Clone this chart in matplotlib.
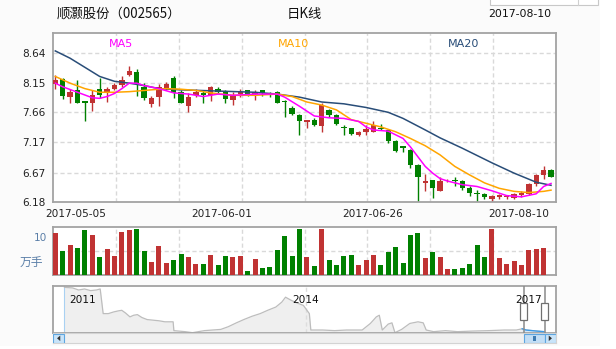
import matplotlib
matplotlib.use('Agg')
import matplotlib.pyplot as plt
from matplotlib.patches import Rectangle, Polygon
import matplotlib.transforms as mtransforms
import numpy as np

plt.rcParams['font.family'] = ['DejaVu Sans', 'Noto Sans CJK SC']

# ---------------- data ----------------
stock_name = '顺灏股份（002565）'
chart_kind = '日K线'
chart_date = '2017-08-10'
date_labels = ['2017-05-05', '2017-06-01', '2017-06-26', '2017-08-10']
price_ticks = [6.18, 6.67, 7.17, 7.66, 8.15, 8.64]
vol_ticks = [10]
vol_unit = '万手'
ma_names = ['MA5', 'MA10', 'MA20']

opens = [8.13, 8.21, 7.92, 8.03, 7.85, 7.82, 8.04, 8.00, 8.05, 8.11,
         8.28, 8.32, 8.08, 7.80, 7.92, 8.04, 8.22, 8.00, 7.77, 7.94,
         7.97, 7.94, 8.05, 7.99, 7.86, 7.96, 8.02, 7.96, 8.02, 7.98,
         8.00, 7.85, 7.73, 7.62, 7.50, 7.53, 7.44, 7.70, 7.62, 7.42,
         7.40, 7.28, 7.33, 7.34, 7.41, 7.37, 7.19, 7.11, 7.04, 6.79,
         6.50, 6.54, 6.37, 6.54, 6.55, 6.53, 6.42, 6.33, 6.32, 6.24,
         6.27, 6.26, 6.25, 6.30, 6.32, 6.48, 6.63, 6.71]
highs = [8.27, 8.22, 8.05, 8.19, 7.85, 8.03, 8.22, 8.08, 8.14, 8.26,
         8.42, 8.37, 8.15, 7.93, 8.12, 8.16, 8.25, 8.03, 7.97, 8.05,
         8.01, 8.09, 8.08, 8.03, 8.00, 8.04, 8.03, 8.03, 8.03, 8.00,
         8.01, 7.86, 7.76, 7.63, 7.54, 7.56, 7.82, 7.71, 7.63, 7.45,
         7.41, 7.36, 7.45, 7.52, 7.46, 7.38, 7.20, 7.11, 7.05, 6.81,
         6.65, 6.55, 6.60, 6.57, 6.60, 6.55, 6.44, 6.38, 6.34, 6.30,
         6.31, 6.30, 6.33, 6.37, 6.49, 6.65, 6.78, 6.72]
lows = [8.04, 7.88, 7.81, 7.82, 7.51, 7.68, 7.89, 7.83, 8.03, 8.08,
        8.25, 7.93, 7.87, 7.74, 7.77, 8.03, 7.89, 7.81, 7.67, 7.92,
        7.82, 7.85, 7.97, 7.81, 7.78, 7.92, 7.93, 7.87, 7.93, 7.91,
        7.81, 7.58, 7.61, 7.28, 7.40, 7.44, 7.34, 7.59, 7.45, 7.29,
        7.29, 7.27, 7.29, 7.33, 7.37, 7.15, 7.00, 7.01, 6.74, 6.18,
        6.36, 6.25, 6.36, 6.52, 6.45, 6.38, 6.28, 6.18, 6.24, 6.18,
        6.24, 6.23, 6.24, 6.27, 6.30, 6.44, 6.57, 6.59]
closes = [8.19, 7.93, 8.00, 7.82, 7.82, 7.94, 7.94, 8.05, 8.11, 8.20,
          8.34, 8.14, 7.89, 7.89, 8.08, 8.13, 7.98, 7.82, 7.92, 7.99,
          7.94, 8.08, 7.99, 7.88, 7.94, 8.00, 7.95, 8.00, 7.97, 7.95,
          7.82, 7.83, 7.64, 7.52, 7.53, 7.45, 7.78, 7.62, 7.47, 7.40,
          7.30, 7.34, 7.38, 7.45, 7.38, 7.19, 7.03, 7.08, 6.79, 6.60,
          6.53, 6.41, 6.53, 6.55, 6.53, 6.41, 6.33, 6.32, 6.26, 6.29,
          6.30, 6.28, 6.32, 6.34, 6.48, 6.63, 6.71, 6.60]
volumes = [11.14, 6.31, 7.89, 7.10, 11.84, 10.52, 4.82, 6.84, 5.00, 11.31,
           11.84, 12.10, 6.31, 3.42, 7.63, 3.24, 3.95, 5.53, 4.82, 2.98,
           2.89, 5.26, 2.63, 5.00, 4.74, 5.09, 1.05, 4.21, 1.84, 2.10,
           6.58, 10.35, 5.09, 12.10, 4.74, 2.37, 12.10, 3.95, 2.63, 5.00,
           5.26, 2.63, 3.95, 5.35, 2.63, 6.05, 7.37, 3.16, 10.52, 11.05,
           4.47, 6.05, 4.74, 1.58, 1.58, 1.84, 2.89, 7.89, 4.74, 12.10,
           4.47, 2.89, 3.68, 2.63, 6.58, 6.84, 7.10, 0.09]

ma5_idx = [0, 1, 3, 5, 6, 7, 8, 9, 10, 11, 12, 14, 16, 18, 20, 22, 24, 27, 30, 31,
           33, 35, 37, 39, 41, 42, 43, 45, 47, 48, 49, 50, 51, 52, 53, 55, 57, 59, 61, 63,
           65, 66, 67]
ma5_val = [8.14, 8.08, 7.99, 7.90, 7.89, 7.92, 7.97, 8.05, 8.14, 8.14, 8.10, 8.05, 7.98, 7.96, 7.92, 7.96, 7.94, 7.96, 7.96, 7.91,
           7.76, 7.60, 7.57, 7.56, 7.51, 7.42, 7.37, 7.35, 7.23, 7.09, 6.93, 6.77, 6.66, 6.57, 6.53, 6.47, 6.44, 6.37, 6.29, 6.27,
           6.32, 6.44, 6.49]
ma10_idx = [0, 2, 4, 6, 8, 10, 12, 15, 17, 19, 21, 24, 27, 30, 32, 34, 36, 38, 40, 42,
            44, 46, 48, 50, 52, 54, 56, 58, 60, 62, 64, 66, 67]
ma10_val = [8.25, 8.14, 8.05, 7.99, 7.99, 8.00, 8.02, 8.05, 8.04, 8.02, 7.98, 7.94, 7.94, 7.96, 7.92, 7.83, 7.78, 7.70, 7.54, 7.48,
            7.42, 7.34, 7.23, 7.11, 6.96, 6.77, 6.63, 6.50, 6.41, 6.36, 6.34, 6.36, 6.38]
ma20_idx = [0, 2, 4, 6, 8, 10, 12, 14, 17, 22, 27, 30, 33, 36, 39, 42, 45, 47, 50, 52,
            55, 59, 62, 65, 67]
ma20_val = [8.67, 8.55, 8.40, 8.25, 8.17, 8.14, 8.10, 8.05, 8.03, 8.01, 7.99, 7.96, 7.91, 7.83, 7.80, 7.74, 7.66, 7.56, 7.37, 7.24,
            7.07, 6.83, 6.66, 6.51, 6.46]

# navigator (long history, ordinal year position / price)
nav_year = [2010.76, 2010.87, 2010.95, 2011.03, 2011.11, 2011.19, 2011.24, 2011.28, 2011.35, 2011.42,
            2011.48, 2011.53, 2011.58, 2011.64, 2011.69, 2011.74, 2011.80, 2011.87, 2011.95, 2012.03,
            2012.11, 2012.22, 2012.23, 2012.38, 2012.48, 2012.64, 2012.86, 2012.96, 2013.07, 2013.17,
            2013.28, 2013.39, 2013.49, 2013.60, 2013.68, 2013.73, 2013.81, 2013.89, 2013.97, 2014.05,
            2014.07, 2014.23, 2014.39, 2014.55, 2014.76, 2014.87, 2014.95, 2014.99, 2015.03, 2015.11,
            2015.16, 2015.20, 2015.29, 2015.40, 2015.51, 2015.58, 2015.62, 2015.72, 2015.88, 2016.04,
            2016.25, 2016.46, 2016.67, 2016.83, 2016.91, 2016.96, 2017.10, 2017.20]
nav_value = [28.4, 28.1, 27.1, 27.6, 26.8, 27.1, 27.6, 15.6, 15.6, 16.4,
             16.9, 17.2, 15.9, 14.0, 14.8, 15.1, 13.7, 12.7, 12.4, 12.1,
             11.6, 11.6, 7.3, 6.8, 6.3, 7.3, 7.9, 9.2, 11.1, 12.7,
             14.3, 15.6, 17.2, 18.8, 21.2, 23.6, 22.0, 20.7, 19.6, 15.6,
             7.6, 7.6, 7.3, 7.6, 7.6, 10.8, 14.0, 14.8, 7.6, 10.5,
             11.1, 6.3, 7.9, 10.8, 11.6, 11.1, 7.6, 6.8, 7.3, 6.8,
             7.1, 7.3, 7.6, 7.6, 8.2, 7.6, 7.1, 6.8]
nav_year_ticks = [2011, 2014, 2017]
sel_start = 2016.93
sel_end = 2017.21

# ---------------- style / layout ----------------
RED = '#c03333'
GREEN = '#008000'
C_MA5 = '#ff00ff'
C_MA10 = '#ffa500'
C_MA20 = '#294d78'
GRID = '#d9d9d9'
SPINE = '#a3a3a3'
W, H = 616, 349
L_PX, R_PX = 53.3, 555.7

def fx(px):
    return px / W

def fy(py):
    return 1 - py / H

fig = plt.figure(figsize=(W / 100, H / 100), dpi=100)
fig.patch.set_facecolor('white')
fig.patches.append(Rectangle((0, fy(346)), fx(600), 346 / H, transform=fig.transFigure,
                             facecolor='#fbfbfb', edgecolor='none', zorder=-10))
# tooltip fragment at top right
fig.patches.append(Rectangle((fx(490), fy(4.5)), fx(108), 6 / H, transform=fig.transFigure,
                             facecolor='white', edgecolor='#c8c8c8', lw=0.8, zorder=5))
fig.lines.append(plt.Line2D([fx(578), fx(578)], [fy(4.5), 1], transform=fig.transFigure,
                            color='#d0d0d0', lw=0.8, zorder=6))

n = len(opens)
idx = np.arange(n)
o = np.array(opens); c = np.array(closes); h = np.array(highs); l = np.array(lows)
up = c >= o
cols = np.where(up, RED, GREEN)

xlim = (-0.27, 67.63)

def vgrid(a):
    for k in range(1, 8):
        a.axvline(xlim[0] + k * (xlim[1] - xlim[0]) / 8, color=GRID, lw=1,
                  linestyle=(0, (3, 2)), zorder=0)

def style_spines(a):
    for s in a.spines.values():
        s.set_color(SPINE)
        s.set_linewidth(1.3)

# ---- main price axes ----
ax = fig.add_axes([fx(L_PX), fy(202.3), fx(R_PX - L_PX), (202.3 - 33.3) / H])
ax.set_facecolor('white')
ax.set_xlim(*xlim)
ax.set_ylim(6.18, 8.96)
ax.set_yticks(price_ticks)
ax.set_yticklabels([f'{v:.2f}' for v in price_ticks])
ax.tick_params(axis='y', length=0, pad=5.5, labelsize=7.6, labelcolor='#222222')
ax.set_xticks([2.8, 22.5, 42.9, 62.7])
ax.set_xticklabels(date_labels)
ax.tick_params(axis='x', length=0, pad=5, labelsize=7.6, labelcolor='#222222')
ax.grid(axis='y', color=GRID, lw=1, linestyle=(0, (3, 2)), zorder=0)
ax.set_axisbelow(True)
vgrid(ax)
style_spines(ax)

ax.vlines(idx, l, h, colors=cols, lw=1.0, zorder=2)
ax.bar(idx, np.maximum(np.abs(c - o), 0.012), bottom=np.minimum(o, c), width=0.72,
       color=cols, linewidth=0, zorder=3)

ax.plot(ma20_idx, ma20_val, color=C_MA20, lw=1.1, zorder=4)
ax.plot(ma10_idx, ma10_val, color=C_MA10, lw=1.1, zorder=4)
ax.plot(ma5_idx, ma5_val, color=C_MA5, lw=1.1, zorder=4)

for name, col, xf in zip(ma_names, [C_MA5, C_MA10, C_MA20], [0.134, 0.478, 0.816]):
    ax.text(xf, 0.937, name, transform=ax.transAxes, color=col, fontsize=8,
            ha='center', va='center')

# titles
fig.text(fx(57), fy(14), stock_name, fontsize=9.6, ha='left', va='center', color='#111111',
         family=['Noto Sans CJK SC', 'DejaVu Sans'])
fig.text(fx(287), fy(14), chart_kind, fontsize=9.6, ha='left', va='center', color='#111111',
         family=['Noto Sans CJK SC', 'DejaVu Sans'])
fig.text(fx(551), fy(14), chart_date, fontsize=7.8, ha='right', va='center', color='#111111')

# ---- volume axes ----
axv = fig.add_axes([fx(L_PX), fy(275), fx(R_PX - L_PX), 47.7 / H])
axv.set_facecolor('white')
axv.set_xlim(*xlim)
vtop = 12.54
axv.set_ylim(0, vtop)
axv.bar(idx, volumes, width=0.68, color=cols, linewidth=0, zorder=3)
axv.set_xticks([])
axv.set_yticks(vol_ticks)
axv.set_yticklabels([str(v) for v in vol_ticks])
axv.tick_params(axis='y', length=0, pad=4.5, labelsize=7.6, labelcolor='#5b7fa8')
axv.axhline(vtop / 2, color=GRID, lw=1, linestyle=(0, (3, 2)), zorder=0)
vgrid(axv)
style_spines(axv)
axv.text(-0.043, 0.25, vol_unit, transform=axv.transAxes, fontsize=8.5, color='#5b7fa8',
         ha='center', va='center', family=['Noto Sans CJK SC', 'DejaVu Sans'])

# ---- navigator ----
axn = fig.add_axes([fx(L_PX), fy(333.3), fx(R_PX - L_PX), 47 / H])
axn.set_facecolor('white')
nxlim = (2010.61, 2017.36)
axn.set_xlim(*nxlim)
axn.set_ylim(6.0, 28.9)
axn.set_xticks([]); axn.set_yticks([])
ny = np.array(nav_year); nv = np.array(nav_value)
axn.fill_between(ny, nv, 6.0, color='#efefef', lw=0, zorder=1)
axn.plot(ny, nv, color='#bdbdbd', lw=0.9, zorder=2)
sel = ny >= sel_start - 0.05
axn.fill_between(ny[sel], nv[sel], 6.0, color='#d6e8f7', lw=0, zorder=2)
axn.plot(ny[sel], nv[sel], color='#3f9be6', lw=1.0, zorder=3)
axn.axvline(2014.0, color='#dddddd', lw=1, linestyle=(0, (3, 2)), zorder=1.5)
axn.axvline(ny[0], color='#a9d1f2', lw=0.8, zorder=1.5)
bt = mtransforms.blended_transform_factory(axn.transData, axn.transAxes)
for yr in nav_year_ticks:
    axn.text(yr, 0.71, str(yr), transform=bt, fontsize=7.6, ha='center', va='center',
             color='#111111', zorder=6)
for xs in (sel_start, sel_end):
    axn.plot([xs, xs], [0, 1], transform=bt, color='#8a8a8a', lw=1.1, zorder=5)
    axn.add_patch(Rectangle((xs - 0.047, 0.28), 0.094, 0.365, transform=bt,
                            facecolor='white', edgecolor='#707070', lw=0.9, zorder=7))
style_spines(axn)

# scrollbar
axs = fig.add_axes([fx(L_PX), fy(343.3), fx(R_PX - L_PX), 10 / H])
axs.set_xlim(*nxlim); axs.set_ylim(0, 1)
axs.set_xticks([]); axs.set_yticks([])
axs.set_facecolor('#f0f0f0')
for s in axs.spines.values():
    s.set_color('#d3d3d3'); s.set_linewidth(0.8)
bts = mtransforms.blended_transform_factory(axs.transData, axs.transAxes)
axs.add_patch(Rectangle((sel_start, 0.02), sel_end - sel_start, 0.96, transform=bts,
                        facecolor='#c3def5', edgecolor='#5ea6e0', lw=0.8, zorder=3))
mid = (sel_start + sel_end) / 2
for dx in (-0.012, 0.0, 0.012):
    axs.plot([mid + dx, mid + dx], [0.3, 0.7], transform=bts, color='#3a78b0', lw=0.7, zorder=4)
bw = 10.7 / (R_PX - L_PX)
for x0, direction in ((0.0, -1), (1 - bw, 1)):
    axs.add_patch(Rectangle((x0, 0.02), bw, 0.96, transform=axs.transAxes,
                            facecolor='#c9e4f9', edgecolor='#5ea6e0', lw=0.8, zorder=3))
    cx = x0 + bw / 2
    tw = 1.6 / (R_PX - L_PX)
    tri = [(cx + direction * tw, 0.5), (cx - direction * tw, 0.78), (cx - direction * tw, 0.22)]
    axs.add_patch(Polygon(tri, closed=True, transform=axs.transAxes, facecolor='#333333',
                          edgecolor='none', zorder=4))

fig.savefig('out.png', dpi=100)
